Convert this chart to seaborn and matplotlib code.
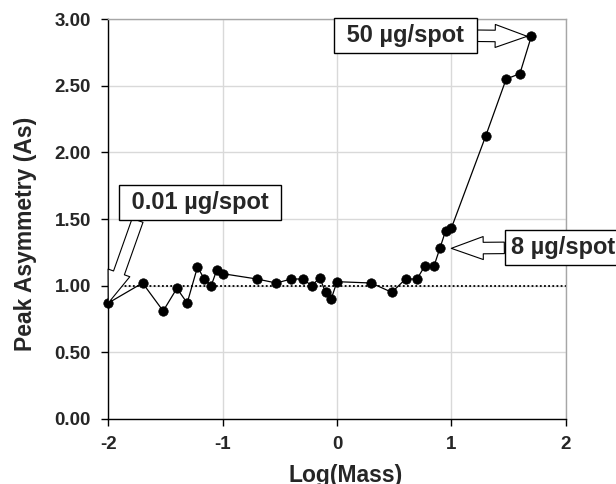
import matplotlib
matplotlib.use("Agg")
import matplotlib.pyplot as plt
import pandas as pd
import seaborn as sns

# значения
log_mass = [-2.00, -1.70, -1.52, -1.40, -1.31, -1.22, -1.16, -1.10, -1.05, -1.00,
            -0.70, -0.53, -0.40, -0.30, -0.22, -0.15, -0.10, -0.05, 0.00, 0.30,
            0.48, 0.60, 0.70, 0.77, 0.85, 0.90, 0.95, 1.00, 1.30, 1.48, 1.60, 1.70]
asymmetry = [0.87, 1.02, 0.81, 0.98, 0.87, 1.14, 1.05, 1.00, 1.12, 1.09,
             1.05, 1.02, 1.05, 1.05, 1.00, 1.06, 0.95, 0.90, 1.03, 1.02,
             0.95, 1.05, 1.05, 1.15, 1.15, 1.28, 1.41, 1.43, 2.12, 2.55, 2.59, 2.87]

x_ticks = [-2, -1, 0, 1, 2]
x_tick_labels = ["-2", "-1", "0", "1", "2"]
y_ticks = [0.0, 0.5, 1.0, 1.5, 2.0, 2.5, 3.0]
y_tick_labels = ["0.00", "0.50", "1.00", "1.50", "2.00", "2.50", "3.00"]
reference_level = 1.0

note_low = "0.01 µg/spot"
note_mid = "8 µg/spot"
note_high = "50 µg/spot"

df = pd.DataFrame({"log_mass": log_mass, "asymmetry": asymmetry})

sns.set_style("white")
plt.rcParams['font.family'] = ['Liberation Sans', 'DejaVu Sans']
plt.rcParams['font.weight'] = 'bold'
plt.rcParams['axes.labelweight'] = 'bold'

fig = plt.figure(figsize=(6.16, 4.84), dpi=100)
ax = fig.add_axes([0.1758, 0.1343, 0.7424, 0.8264])

# сетка и пунктир на уровне 1.00
ax.grid(True, color='#d9d9d9', linewidth=1)
ax.set_axisbelow(True)
ax.axhline(reference_level, color='black', linestyle=(0, (1, 1.3)), linewidth=1.3, zorder=2)

sns.lineplot(data=df, x="log_mass", y="asymmetry", color="black", linewidth=0.9,
             marker="o", markersize=6.8, markeredgecolor="black", markeredgewidth=0.5,
             sort=False, estimator=None, ax=ax, clip_on=False, zorder=3)

ax.set_xlim(-2, 2)
ax.set_ylim(0, 3)
ax.set_xticks(x_ticks, x_tick_labels)
ax.set_yticks(y_ticks, y_tick_labels)
ax.tick_params(axis='both', direction='out', length=5, width=1, color='black',
               labelsize=13.5, pad=7.5, left=True, bottom=True)

for side in ['left', 'bottom']:
    ax.spines[side].set_color('black')
    ax.spines[side].set_linewidth(1)
for side in ['top', 'right']:
    ax.spines[side].set_color('#a6a6a6')
    ax.spines[side].set_linewidth(1)

ax.set_xlabel("Log(Mass)", fontsize=16.5)
ax.set_ylabel("Peak Asymmetry (As)", fontsize=16.5)
ax.xaxis.set_label_coords(0.52, -0.112)
ax.yaxis.set_label_coords(-0.156, 0.4625)

# подписи со стрелками
box = dict(boxstyle="square,pad=0.25", fc="white", ec="black", lw=1)
arrow = dict(arrowstyle="simple,head_length=1.0,head_width=0.72,tail_width=0.36",
             mutation_scale=23, fc="white", ec="black", lw=0.8, shrinkA=0)

ax.annotate(" " + note_high + " ", xy=(1.70, 2.87), xytext=(0.60, 2.875),
            fontsize=17, ha='center', va='center', bbox=box, zorder=5,
            annotation_clip=False,
            arrowprops=dict(arrow, relpos=(1, 0.5), shrinkB=3))
ax.annotate(" " + note_low + " ", xy=(-2.0, 0.87), xytext=(-1.198, 1.624),
            fontsize=17, ha='center', va='center', bbox=box, zorder=5,
            annotation_clip=False,
            arrowprops=dict(arrow, relpos=(0.1, 0), shrinkB=0))
ax.annotate(note_mid, xy=(1.0, 1.28), xytext=(1.52, 1.284),
            fontsize=17, ha='left', va='center', bbox=box, zorder=5,
            annotation_clip=False,
            arrowprops=dict(arrow, relpos=(0, 0.5), shrinkB=0))

fig.savefig("out.png", dpi=100)
